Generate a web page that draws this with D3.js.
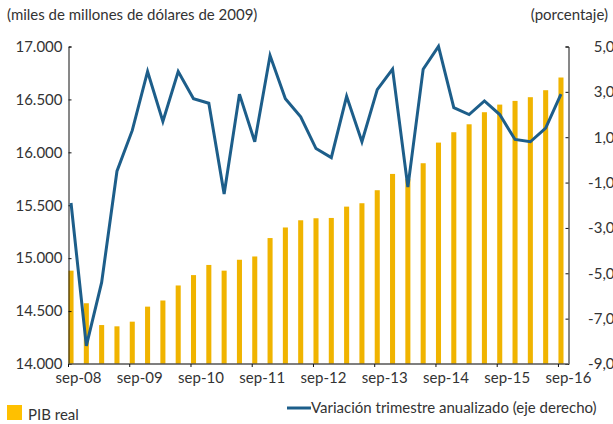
<!DOCTYPE html>
<html>
<head>
<meta charset="utf-8">
<script src="https://cdn.jsdelivr.net/npm/d3@7"></script>
<style>
  body { margin: 0; background: #fff; }
  svg { font-family: Lato, "Open Sans", sans-serif; }
  text { fill: #333; }
</style>
</head>
<body>
<div id="chart"></div>
<script>
const quarters = [
  '2008T3', '2008T4', '2009T1', '2009T2', '2009T3', '2009T4', '2010T1', '2010T2', '2010T3', '2010T4',
  '2011T1', '2011T2', '2011T3', '2011T4', '2012T1', '2012T2', '2012T3', '2012T4', '2013T1', '2013T2',
  '2013T3', '2013T4', '2014T1', '2014T2', '2014T3', '2014T4', '2015T1', '2015T2', '2015T3', '2015T4',
  '2016T1', '2016T2', '2016T3'
]
const tickLabels = ['sep-08', 'sep-09', 'sep-10', 'sep-11', 'sep-12', 'sep-13', 'sep-14', 'sep-15', 'sep-16']

// PIB real (miles de millones de dolares de 2009)
const pib = [
  14882, 14574, 14368, 14356, 14400, 14542, 14600, 14742, 14840, 14936,
  14882, 14985, 15016, 15190, 15290, 15358, 15377, 15380, 15487, 15519,
  15642, 15796, 15750, 15897, 16092, 16190, 16265, 16379, 16451, 16486,
  16521, 16587, 16707
]

// Variacion trimestre anualizado (porcentaje)
const variacion = [
  -1.9, -8.2, -5.4, -0.5, 1.3, 3.9, 1.7, 3.9, 2.7, 2.5,
  -1.5, 2.9, 0.8, 4.6, 2.7, 1.9, 0.5, 0.1, 2.8, 0.8,
  3.1, 4.0, -1.2, 4.0, 5.0, 2.3, 2.0, 2.6, 2.0, 0.9,
  0.8, 1.4, 2.9
]

const leftTicks = [14000, 14500, 15000, 15500, 16000, 16500, 17000]
const rightTicks = [-9, -7, -5, -3, -1, 1, 3, 5]

const width = 613
const height = 424
const margin = { top: 46.5, right: 44.5, bottom: 60, left: 68.5 }
const plotRight = width - margin.right
const plotBottom = height - margin.bottom

const svg = d3.select('#chart')
  .append('svg')
  .attr('width', width)
  .attr('height', height)

const x = d3.scaleBand()
  .domain(quarters)
  .range([margin.left, plotRight - 5])
  .paddingInner(0.67)
  .paddingOuter(0)

const yLeft = d3.scaleLinear()
  .domain([14000, 17000])
  .range([plotBottom, margin.top])

const yRight = d3.scaleLinear()
  .domain([-9, 5])
  .range([plotBottom, margin.top])

const fmtLeft = d3.formatLocale({ decimal: ',', thousands: '.', grouping: [3], currency: ['', ''], minus: '-' }).format(',.0f')
const fmtRight = d3.formatLocale({ decimal: ',', thousands: '.', grouping: [3], currency: ['', ''], minus: '-' }).format('.1f')

// bars
svg.append('g')
  .selectAll('rect')
  .data(pib)
  .join('rect')
  .attr('x', (d, i) => x(quarters[i]))
  .attr('width', x.bandwidth())
  .attr('y', d => yLeft(d))
  .attr('height', d => plotBottom - yLeft(d))
  .attr('fill', '#F0B400')

// axes
const leftAxis = svg.append('g')
  .attr('transform', `translate(${margin.left},0)`)
  .call(d3.axisRight(yLeft).tickValues(leftTicks).tickSize(3).tickFormat(fmtLeft))
leftAxis.select('.domain').attr('stroke', '#111')
leftAxis.selectAll('.tick line').attr('stroke', '#111')
leftAxis.selectAll('.tick text')
  .attr('x', -6)
  .attr('text-anchor', 'end')
  .style('font-size', '15px')
  .style('font-family', 'Lato')

const rightAxis = svg.append('g')
  .attr('transform', `translate(${plotRight},0)`)
  .call(d3.axisLeft(yRight).tickValues(rightTicks).tickSize(3).tickFormat(fmtRight))
rightAxis.select('.domain').attr('stroke', '#111')
rightAxis.selectAll('.tick line').attr('stroke', '#111')
rightAxis.selectAll('.tick text')
  .attr('x', 46)
  .attr('text-anchor', 'end')
  .style('font-size', '15px')
  .style('font-family', 'Lato')

const bottomAxis = svg.append('g')
  .attr('transform', `translate(0,${plotBottom})`)
bottomAxis.append('line')
  .attr('x1', margin.left).attr('x2', plotRight)
  .attr('stroke', '#555').attr('stroke-width', 1.5)
const tickQuarters = quarters.filter((q, i) => i % 4 === 0)
bottomAxis.selectAll('line.tick')
  .data(tickQuarters)
  .join('line')
  .attr('class', 'tick')
  .attr('x1', d => x(d)).attr('x2', d => x(d))
  .attr('y1', 0).attr('y2', 3)
  .attr('stroke', '#111')
bottomAxis.selectAll('text')
  .data(tickQuarters)
  .join('text')
  .attr('x', d => x(d) + 10)
  .attr('y', 19)
  .attr('text-anchor', 'middle')
  .style('font-size', '15px')
  .text((d, i) => tickLabels[i])

// line
const line = d3.line()
  .x((d, i) => x(quarters[i]) + x.bandwidth() / 2)
  .y(d => yRight(d))

svg.append('path')
  .datum(variacion)
  .attr('fill', 'none')
  .attr('stroke', '#1D5E8A')
  .attr('stroke-width', 3)
  .attr('stroke-linejoin', 'miter')
  .attr('d', line)

// axis titles
svg.append('text')
  .attr('x', 7).attr('y', 20)
  .style('font-size', '15px')
  .text('(miles de millones de dólares de 2009)')
svg.append('text')
  .attr('x', 608).attr('y', 20)
  .attr('text-anchor', 'end')
  .style('font-size', '15px')
  .text('(porcentaje)')

// legend
const legend = svg.append('g')
legend.append('rect')
  .attr('x', 7).attr('y', 405).attr('width', 15).attr('height', 15)
  .attr('fill', '#FFC000')
legend.append('text')
  .attr('x', 28).attr('y', 420)
  .style('font-size', '15px')
  .text('PIB real')
legend.append('line')
  .attr('x1', 287).attr('x2', 311).attr('y1', 408).attr('y2', 408)
  .attr('stroke', '#1D5E8A').attr('stroke-width', 3)
legend.append('text')
  .attr('x', 311).attr('y', 413)
  .style('font-size', '15px')
  .text('Variación trimestre anualizado (eje derecho)')
</script>
</body>
</html>
